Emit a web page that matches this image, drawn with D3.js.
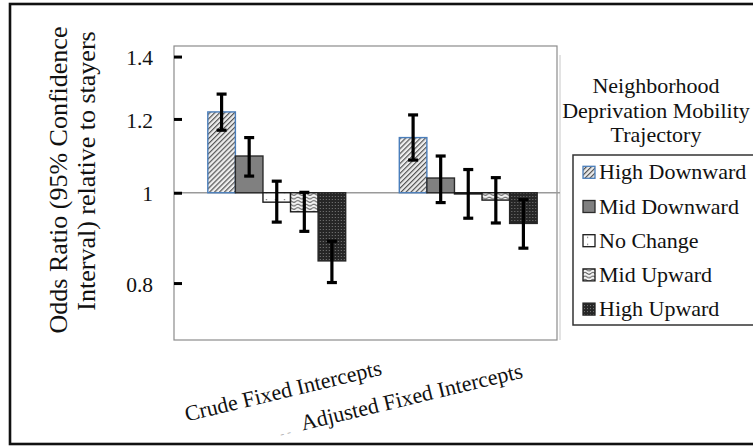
<!DOCTYPE html>
<html>
<head>
<meta charset="utf-8">
<script src="https://cdn.jsdelivr.net/npm/d3@7"></script>
<style>
  body { margin: 0; background: #fff; }
  svg { display: block; font-family: "Liberation Serif", "Times New Roman", serif; }
</style>
</head>
<body>
<svg id="chart"></svg>
<script>
const categories = ["Crude Fixed Intercepts", "Adjusted Fixed Intercepts"];
const trajectories = ["High Downward", "Mid Downward", "No Change", "Mid Upward", "High Upward"];
const oddsCrude = [1.221, 1.095, 0.977, 0.954, 0.845];
const lowerCrude = [1.167, 1.042, 0.930, 0.909, 0.801];
const upperCrude = [1.276, 1.146, 1.029, 1.001, 0.887];
const oddsAdjusted = [1.146, 1.037, 0.997, 0.982, 0.927];
const lowerAdjusted = [1.084, 0.976, 0.939, 0.928, 0.872];
const upperAdjusted = [1.212, 1.095, 1.059, 1.038, 0.983];
const yTicks = [0.8, 1, 1.2, 1.4];
const yTitle = ["Odds Ratio (95% Confidence", "Interval) relative to stayers"];
const legendTitle = ["Neighborhood", "Deprivation Mobility", "Trajectory"];

const width = 753, height = 446;
const plot = { left: 174, right: 557, top: 46, bottom: 340 };
const ink = "#111";

const rows = categories.map((c, i) => ({
  category: c,
  values: trajectories.map((t, j) => ({
    key: t,
    value: [oddsCrude, oddsAdjusted][i][j],
    lo: [lowerCrude, lowerAdjusted][i][j],
    hi: [upperCrude, upperAdjusted][i][j],
  })),
}));

const svg = d3.select("#chart").attr("width", width).attr("height", height);
svg.append("rect").attr("width", width).attr("height", height).attr("fill", "#fff");

// fill patterns for the five trajectories
const defs = svg.append("defs");
const hd = defs.append("pattern").attr("id", "p0").attr("patternUnits", "userSpaceOnUse")
  .attr("width", 3.5).attr("height", 3.5).attr("patternTransform", "rotate(45)");
hd.append("rect").attr("width", 3.5).attr("height", 3.5).attr("fill", "#eeeeee");
hd.append("line").attr("x1", 0.6).attr("x2", 0.6).attr("y1", 0).attr("y2", 3.5)
  .attr("stroke", "#555").attr("stroke-width", 1.2);

const nc = defs.append("pattern").attr("id", "p2").attr("patternUnits", "userSpaceOnUse")
  .attr("width", 9).attr("height", 7);
nc.append("rect").attr("width", 9).attr("height", 7).attr("fill", "#fff");
nc.append("rect").attr("x", 4).attr("y", 3).attr("width", 1.2).attr("height", 1.2).attr("fill", "#777");

const mu = defs.append("pattern").attr("id", "p3").attr("patternUnits", "userSpaceOnUse")
  .attr("width", 8).attr("height", 3.5);
mu.append("rect").attr("width", 8).attr("height", 3.5).attr("fill", "#f4f4f4");
mu.append("path").attr("d", "M0 2 Q2 0.3 4 2 T8 2").attr("fill", "none")
  .attr("stroke", "#444").attr("stroke-width", 0.9);

const hu = defs.append("pattern").attr("id", "p4").attr("patternUnits", "userSpaceOnUse")
  .attr("width", 3).attr("height", 3);
hu.append("rect").attr("width", 3).attr("height", 3).attr("fill", "#262626");
hu.append("rect").attr("x", 1).attr("y", 1).attr("width", 1).attr("height", 1).attr("fill", "#7a7a7a");

const fills = ["url(#p0)", "#808080", "url(#p2)", "url(#p3)", "url(#p4)"];
const strokes = ["#4a7ebb", "#2b2b2b", "#1a1a1a", "#1a1a1a", "#262626"];

const y = d3.scaleLog().domain([0.695, 1.437]).range([plot.bottom, plot.top]);
const x0 = d3.scaleBand().domain(categories).range([plot.left + 7, plot.right + 7])
  .paddingInner(0.28).paddingOuter(0.14);
const x1 = d3.scaleBand().domain(trajectories).range([0, x0.bandwidth()]);

// plot frame
svg.append("line").attr("x1", plot.right + 3).attr("x2", plot.right + 3)
  .attr("y1", plot.top + 9).attr("y2", plot.bottom).attr("stroke", "#c8c8c8");
svg.append("rect").attr("x", plot.left).attr("y", plot.top)
  .attr("width", plot.right - plot.left).attr("height", plot.bottom - plot.top)
  .attr("fill", "none").attr("stroke", "#8c8c8c").attr("stroke-width", 1.2);

// reference line at 1
svg.append("line").attr("x1", plot.left).attr("x2", plot.right + 3)
  .attr("y1", y(1)).attr("y2", y(1)).attr("stroke", "#9a9a9a").attr("stroke-width", 1.3);

const groups = svg.append("g").selectAll("g").data(rows).join("g")
  .attr("transform", (d) => `translate(${x0(d.category)},0)`);

groups.selectAll("rect").data((d) => d.values).join("rect")
  .attr("x", (d) => x1(d.key))
  .attr("y", (d) => Math.min(y(d.value), y(1)))
  .attr("width", x1.bandwidth())
  .attr("height", (d) => Math.max(1, Math.abs(y(d.value) - y(1))))
  .attr("fill", (d, i) => fills[i])
  .attr("stroke", (d, i) => strokes[i])
  .attr("stroke-width", 1.4);

// error bars
const err = groups.selectAll("g.err").data((d) => d.values).join("g").attr("class", "err")
  .attr("transform", (d) => `translate(${x1(d.key) + x1.bandwidth() / 2},0)`)
  .attr("stroke", "#000").attr("stroke-width", 3.2);
err.append("line").attr("y1", (d) => y(d.lo)).attr("y2", (d) => y(d.hi));
err.append("line").attr("x1", -5).attr("x2", 5).attr("y1", (d) => y(d.hi)).attr("y2", (d) => y(d.hi));
err.append("line").attr("x1", -5).attr("x2", 5).attr("y1", (d) => y(d.lo)).attr("y2", (d) => y(d.lo));

// y axis
svg.append("g")
  .attr("transform", `translate(${plot.left},0)`)
  .call(d3.axisLeft(y).tickValues(yTicks).tickFormat((d) => String(d)).tickSize(-8).tickPadding(21))
  .call((g) => g.select(".domain").remove())
  .call((g) => g.selectAll(".tick line").attr("stroke", "#000").attr("stroke-width", 3))
  .call((g) => g.selectAll(".tick text")
    .attr("font-family", "Liberation Serif, Times New Roman, serif")
    .attr("font-size", 21.5).attr("fill", ink).attr("dy", "0.38em"));

// y title
const titlePos = [[67, 180], [95, 171]];
svg.selectAll("text.ytitle").data(yTitle).join("text").attr("class", "ytitle")
  .attr("transform", (d, i) => `translate(${titlePos[i][0]},${titlePos[i][1]}) rotate(-90)`)
  .attr("text-anchor", "middle").attr("font-size", 26).attr("fill", ink)
  .text((d) => d);

// rotated category labels
const labelShift = [[8, 58], [-55, 64]];
svg.selectAll("text.xlab").data(categories).join("text").attr("class", "xlab")
  .attr("transform", (d, i) => {
    const cx = x0(d) + x0.bandwidth() / 2 + labelShift[i][0];
    const cy = plot.bottom + labelShift[i][1];
    return `translate(${cx},${cy}) rotate(-13.5)`;
  })
  .attr("text-anchor", "middle").attr("font-size", 22).attr("fill", ink)
  .text((d) => d);
svg.append("text").attr("transform", "translate(281,438) rotate(-13.5)")
  .attr("font-size", 12).attr("fill", "#aaa").text("- -");

// legend
const lg = svg.append("g");
lg.selectAll("text.lt").data(legendTitle).join("text").attr("class", "lt")
  .attr("x", 656).attr("y", (d, i) => 93 + i * 24.5)
  .attr("text-anchor", "middle").attr("font-size", 22).attr("fill", ink)
  .text((d) => d);
lg.append("rect").attr("x", 573).attr("y", 155).attr("width", 200).attr("height", 170)
  .attr("fill", "none").attr("stroke", "#333").attr("stroke-width", 1.5);
const item = lg.selectAll("g.item").data(trajectories).join("g").attr("class", "item")
  .attr("transform", (d, i) => `translate(583,${179.3 + i * 34.2})`);
item.append("rect").attr("x", 0).attr("y", -13).attr("width", 12).attr("height", 12)
  .attr("fill", (d, i) => fills[i]).attr("stroke", (d, i) => strokes[i]).attr("stroke-width", 1.3);
item.append("text").attr("x", 16).attr("font-size", 22).attr("fill", ink).text((d) => d);

// outer frame
svg.append("rect").attr("x", 10).attr("y", 4).attr("width", 760).attr("height", 440)
  .attr("fill", "none").attr("stroke", "#111").attr("stroke-width", 2.6);
</script>
</body>
</html>
